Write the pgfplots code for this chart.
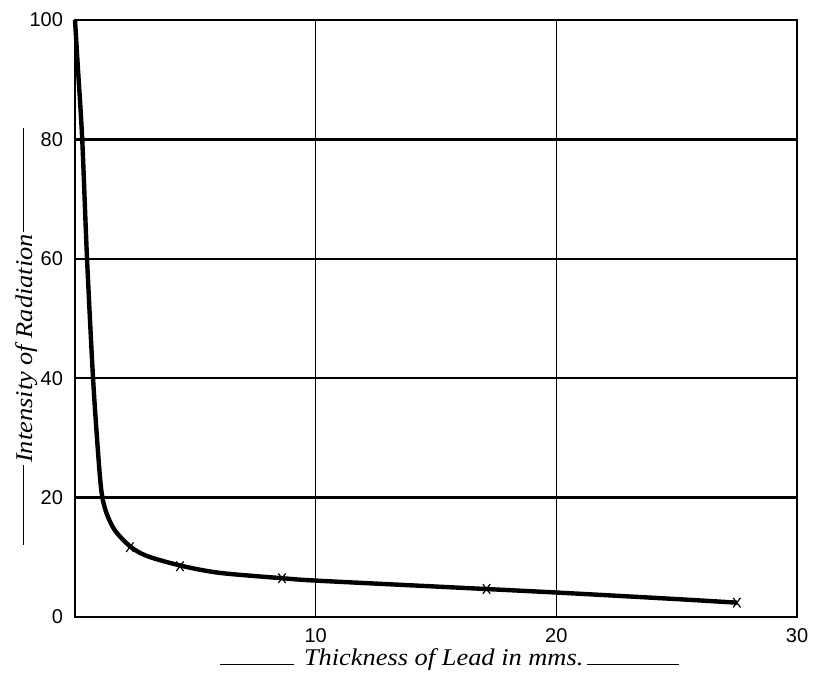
\documentclass[border=0pt]{standalone}
\usepackage{fontspec}
\setmainfont{Liberation Serif}
\setsansfont{Liberation Sans}
\newfontfamily\labfont[FakeStretch=1.1]{Liberation Serif}
\usepackage{pgfplots}
\pgfplotsset{compat=1.18}
\begin{document}
\begin{tikzpicture}
\begin{axis}[
  scale only axis,
  width=361pt, height=298.5pt,
  xmin=0, xmax=30, ymin=0, ymax=100,
  xtick={10,20,30}, ytick={0,20,40,60,80,100},
  major tick length=0pt,
  grid=major,
  x grid style={black, line width=0.5pt},
  y grid style={black, line width=1.2pt},
  axis line style={black, line width=1.3pt},
  /pgf/number format/assume math mode=true,
  tick label style={font=\sffamily\fontsize{10}{12}\selectfont},
  yticklabel style={xshift=-2.5pt},
  xticklabel style={yshift=-2pt},
  every axis x label/.style={at={(axis description cs:0.519,0)}, anchor=base, yshift=-24pt},
  every axis y label/.style={at={(axis description cs:0,0.47)}, rotate=90, anchor=base, yshift=21.5pt},
  xlabel={\labfont\fontsize{12}{14}\selectfont\rule{37pt}{0.7pt}\hspace{5pt}\textit{Thickness of Lead in mms.}\hspace{2pt}\rule{46pt}{0.7pt}},
  ylabel={\labfont\fontsize{12}{14}\selectfont\rule[4pt]{40pt}{0.7pt}\hspace{1pt}\textit{Intensity of Radiation}\hspace{1pt}\rule[4pt]{52pt}{0.7pt}},
  clip=false,
]
\addplot[black, line width=2.2pt, smooth, tension=0.5] coordinates {
  (0,100) (0.12,92) (0.3,80) (0.5,60) (0.75,40) (0.95,28) (1.1,21)
  (1.3,17.5) (1.66,14.5) (2.3,11.8) (3,10.2) (4.4,8.6) (6,7.4)
  (8.6,6.5) (10,6.1) (15,5.1) (20,4.1) (25,3.0) (27.5,2.4)
};
\addplot[only marks, mark=x, mark size=2.6pt, mark options={line width=0.6pt, yscale=1.3}] coordinates {
  (2.28,11.7) (4.36,8.5) (8.6,6.5) (17.1,4.7) (27.5,2.4)
};
\end{axis}
\pgfresetboundingbox
\path ([shift={(-37.5pt,-30.5pt)}]current axis.south west) rectangle ([shift={(12pt,10pt)}]current axis.north east);
\end{tikzpicture}
\end{document}
